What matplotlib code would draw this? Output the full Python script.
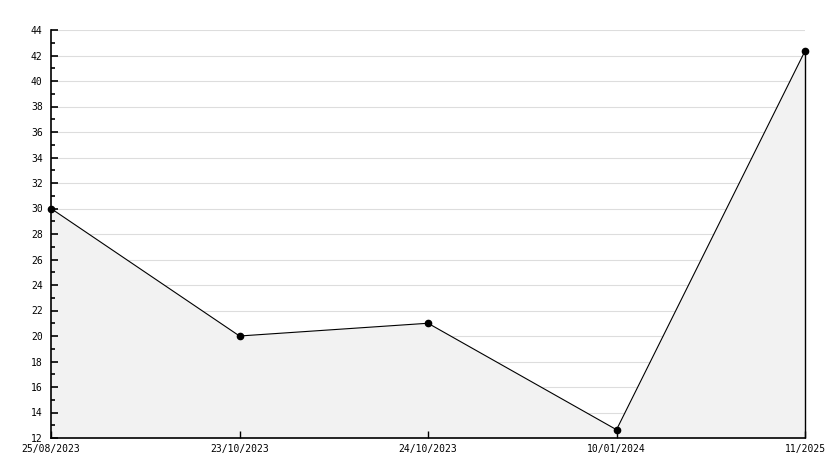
import matplotlib
matplotlib.use("Agg")
import matplotlib.pyplot as plt
from matplotlib.ticker import MultipleLocator

dates = ["25/08/2023", "23/10/2023", "24/10/2023", "10/01/2024", "11/2025"]
values = [30, 20, 21, 12.65, 42.35]
y_min, y_max = 12, 44

fig = plt.figure(figsize=(8.34, 4.68), dpi=100)
ax = fig.add_axes([51 / 834, 30 / 468, 754 / 834, 408 / 468])

x = list(range(len(values)))

# grid drawn by hand so the fill can sit on top of it while ticks stay visible
for g in range(y_min, y_max + 1, 2):
    ax.axhline(g, color="#dddddd", lw=0.8, zorder=0)

ax.fill_between(x, values, y_min, color="#f2f2f2", lw=0, zorder=1)
ax.vlines(x[-1], y_min, values[-1], color="black", lw=1, zorder=2, clip_on=False)
ax.plot(x, values, color="black", lw=0.8, marker="o", ms=4.5, zorder=3, clip_on=False)

ax.set_xlim(0, len(values) - 1)
ax.set_ylim(y_min, y_max)
ax.yaxis.set_major_locator(MultipleLocator(2))
ax.yaxis.set_minor_locator(MultipleLocator(1))
ax.set_xticks(x)
ax.set_xticklabels(dates)

for s in ["top", "right"]:
    ax.spines[s].set_visible(False)
for s in ["left", "bottom"]:
    ax.spines[s].set_linewidth(1.2)
    ax.spines[s].set_zorder(4)

ax.tick_params(axis="y", which="major", direction="in", length=5, width=1.2, pad=6)
ax.tick_params(axis="y", which="minor", direction="in", length=3, width=1.2)
ax.tick_params(axis="x", direction="in", length=5, width=1, pad=4)
for lab in ax.get_xticklabels() + ax.get_yticklabels():
    lab.set_family("DejaVu Sans Mono")
    lab.set_fontsize(7)

fig.savefig("out.png", dpi=100, facecolor="white")
